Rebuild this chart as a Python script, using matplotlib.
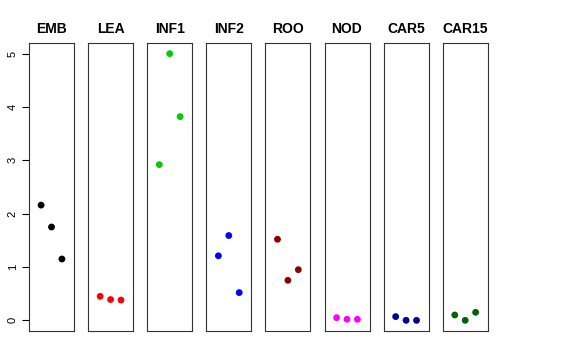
import matplotlib
matplotlib.use("Agg")
from matplotlib import pyplot as plt

plt.rcParams["font.family"] = ["Liberation Sans", "DejaVu Sans"]

# data per tissue (three replicates each)
tissues = ["EMB", "LEA", "INF1", "INF2", "ROO", "NOD", "CAR5", "CAR15"]
colors = ["black", "red", "#00CD00", "blue", "#8B0000", "magenta", "#00008B", "#006400"]
emb = [2.16, 1.75, 1.15]
lea = [0.45, 0.39, 0.38]
inf1 = [2.92, 5.00, 3.82]
inf2 = [1.21, 1.59, 0.52]
roo = [1.52, 0.75, 0.95]
nod = [0.05, 0.02, 0.02]
car5 = [0.07, 0.00, 0.00]
car15 = [0.10, 0.00, 0.15]
values = [emb, lea, inf1, inf2, roo, nod, car5, car15]
yticks = [0, 1, 2, 3, 4, 5]

W, H = 576, 360
fig = plt.figure(figsize=(W / 100, H / 100), dpi=100)

left0 = 29
step = 59.1
width = 45
top, bottom = 43, 331

for i, (name, col, vals) in enumerate(zip(tissues, colors, values)):
    x0 = left0 + i * step
    ax = fig.add_axes([x0 / W, 1 - bottom / H, width / W, (bottom - top) / H])
    ax.scatter([1, 2, 3], vals, s=24, color=col, edgecolors="none")
    ax.set_xlim(-0.16, 4.16)
    ax.set_ylim(-0.2, 5.2)
    ax.set_xticks([])
    for sp in ax.spines.values():
        sp.set_linewidth(0.8)
        sp.set_color("#333333")
    ax.set_title(name, fontsize=10, fontweight="bold", pad=7)
    if i == 0:
        ax.set_yticks(yticks)
        ax.set_yticklabels([str(t) for t in yticks], rotation=90, va="center", fontsize=8)
        ax.tick_params(axis="y", length=5, width=0.8, pad=3)
    else:
        ax.set_yticks([])

fig.savefig("out.png", dpi=100)
